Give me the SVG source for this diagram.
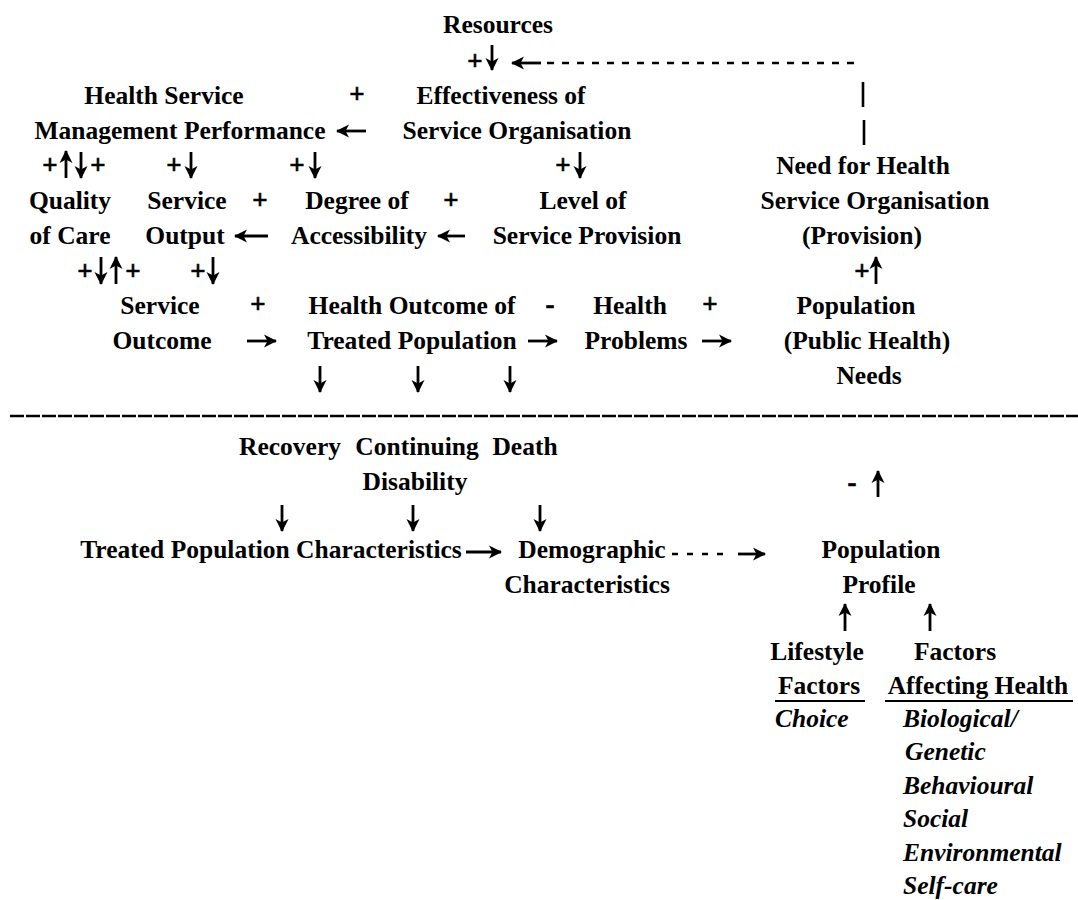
<svg xmlns="http://www.w3.org/2000/svg" width="1078" height="900" viewBox="0 0 1078 900">
<defs>
<marker id="ah" markerUnits="userSpaceOnUse" markerWidth="15" markerHeight="14" refX="12" refY="7" orient="auto">
<path d="M0,0.5 L13,7 L0,13.5 L3.5,7 Z" fill="#000"/>
</marker>
<style>
text{font-family:"Liberation Serif","Times New Roman",serif;font-weight:bold;font-size:25.5px;fill:#000;text-anchor:middle}
.it{font-style:italic;text-anchor:start}
.s{font-size:27px;stroke:#000;stroke-width:0.6}
.a{stroke:#000;stroke-width:2.8;fill:none;marker-end:url(#ah)}
.d{stroke:#000;stroke-width:2.6;fill:none}
.ul{stroke:#000;stroke-width:2}
</style>
</defs>
<rect width="1078" height="900" fill="#fff"/>
<g id="resources"><text x="498" y="33">Resources</text></g>
<g id="hsmp"><text x="164" y="104">Health Service</text><text x="180" y="139">Management Performance</text></g>
<g id="eso"><text x="501" y="104">Effectiveness of</text><text x="517" y="139">Service Organisation</text></g>
<g id="quality"><text x="70" y="209">Quality</text><text x="70" y="244">of Care</text></g>
<g id="output"><text x="187" y="209">Service</text><text x="185" y="244">Output</text></g>
<g id="access"><text x="357" y="209">Degree of</text><text x="359" y="244">Accessibility</text></g>
<g id="provision"><text x="583" y="209">Level of</text><text x="587" y="244">Service Provision</text></g>
<g id="need"><text x="863" y="174">Need for Health</text><text x="875" y="209">Service Organisation</text><text x="862" y="244">(Provision)</text></g>
<g id="soutcome"><text x="160" y="314">Service</text><text x="162" y="349">Outcome</text></g>
<g id="houtcome"><text x="412" y="314">Health Outcome of</text><text x="412" y="349">Treated Population</text></g>
<g id="problems"><text x="630" y="314">Health</text><text x="636" y="349">Problems</text></g>
<g id="popneeds"><text x="856" y="314">Population</text><text x="867" y="349">(Public Health)</text><text x="869" y="384">Needs</text></g>
<g id="outcomes"><text x="290" y="455">Recovery</text><text x="417" y="455">Continuing</text><text x="525" y="455">Death</text><text x="415" y="490">Disability</text></g>
<g id="treated"><text x="271" y="558">Treated Population Characteristics</text></g>
<g id="demographic"><text x="592" y="558">Demographic</text><text x="587" y="593">Characteristics</text></g>
<g id="profile"><text x="881" y="558">Population</text><text x="879" y="593">Profile</text></g>
<g id="lifestyle"><text x="817" y="660">Lifestyle</text><text x="819" y="694">Factors</text><line class="ul" x1="775" y1="701" x2="865" y2="701"/><text class="it" x="775" y="727">Choice</text></g>
<g id="factors"><text x="955" y="660">Factors</text><text x="978" y="694">Affecting Health</text><line class="ul" x1="885" y1="701" x2="1073" y2="701"/><text class="it" x="903" y="727">Biological/</text><text class="it" x="905" y="760">Genetic</text><text class="it" x="903" y="794">Behavioural</text><text class="it" x="903" y="827">Social</text><text class="it" x="903" y="861">Environmental</text><text class="it" x="903" y="894">Self-care</text></g>
<g id="signs">
<text class="s" x="475" y="70">+</text>
<text class="s" x="357" y="103">+</text>
<text class="s" x="50" y="174">+</text><text class="s" x="98" y="174">+</text><text class="s" x="174" y="174">+</text><text class="s" x="297" y="174">+</text><text class="s" x="563" y="174">+</text>
<text class="s" x="260" y="209">+</text><text class="s" x="451" y="209">+</text>
<text class="s" x="85" y="280">+</text><text class="s" x="133" y="280">+</text><text class="s" x="198" y="280">+</text><text class="s" x="862" y="280">+</text>
<text class="s" x="258" y="313">+</text><text class="s" x="550" y="313">-</text><text class="s" x="710" y="313">+</text>
<text class="s" x="852" y="491">-</text>
</g>
<g id="connectors">
<line class="a" x1="492" y1="45" x2="492" y2="70"/>
<line class="a" x1="541" y1="63" x2="512" y2="63"/>
<line class="d" x1="547" y1="63" x2="862" y2="63" stroke-dasharray="7 8"/>
<line class="d" x1="863" y1="82" x2="863" y2="107"/>
<line class="d" x1="864" y1="120" x2="864" y2="145"/>
<line class="a" x1="366" y1="131" x2="337" y2="131"/>
<line class="a" x1="66" y1="178" x2="66" y2="151"/>
<line class="a" x1="81" y1="152" x2="81" y2="178"/>
<line class="a" x1="191" y1="152" x2="191" y2="178"/>
<line class="a" x1="315" y1="152" x2="315" y2="178"/>
<line class="a" x1="580" y1="152" x2="580" y2="178"/>
<line class="a" x1="268" y1="236" x2="235" y2="236"/>
<line class="a" x1="465" y1="236" x2="438" y2="236"/>
<line class="a" x1="101" y1="257" x2="101" y2="284"/>
<line class="a" x1="116" y1="284" x2="116" y2="257"/>
<line class="a" x1="213" y1="257" x2="213" y2="284"/>
<line class="a" x1="876" y1="284" x2="876" y2="257"/>
<line class="a" x1="247" y1="341" x2="276" y2="341"/>
<line class="a" x1="528" y1="341" x2="557" y2="341"/>
<line class="a" x1="702" y1="341" x2="731" y2="341"/>
<line class="a" x1="320" y1="366" x2="320" y2="392"/>
<line class="a" x1="418" y1="366" x2="418" y2="392"/>
<line class="a" x1="510" y1="366" x2="510" y2="392"/>
<line class="d" x1="10" y1="416" x2="1078" y2="416" stroke-width="3.2" stroke-dasharray="14 2"/>
<line class="a" x1="878" y1="497" x2="878" y2="471"/>
<line class="a" x1="282" y1="505" x2="282" y2="531"/>
<line class="a" x1="413" y1="505" x2="413" y2="531"/>
<line class="a" x1="540" y1="505" x2="540" y2="531"/>
<line class="a" x1="466" y1="552" x2="501" y2="552"/>
<line class="d" x1="672" y1="554" x2="732" y2="554" stroke-dasharray="6 9"/>
<line class="a" x1="738" y1="554" x2="765" y2="554"/>
<line class="a" x1="845" y1="631" x2="845" y2="604"/>
<line class="a" x1="930" y1="631" x2="930" y2="604"/>
</g>
</svg>
